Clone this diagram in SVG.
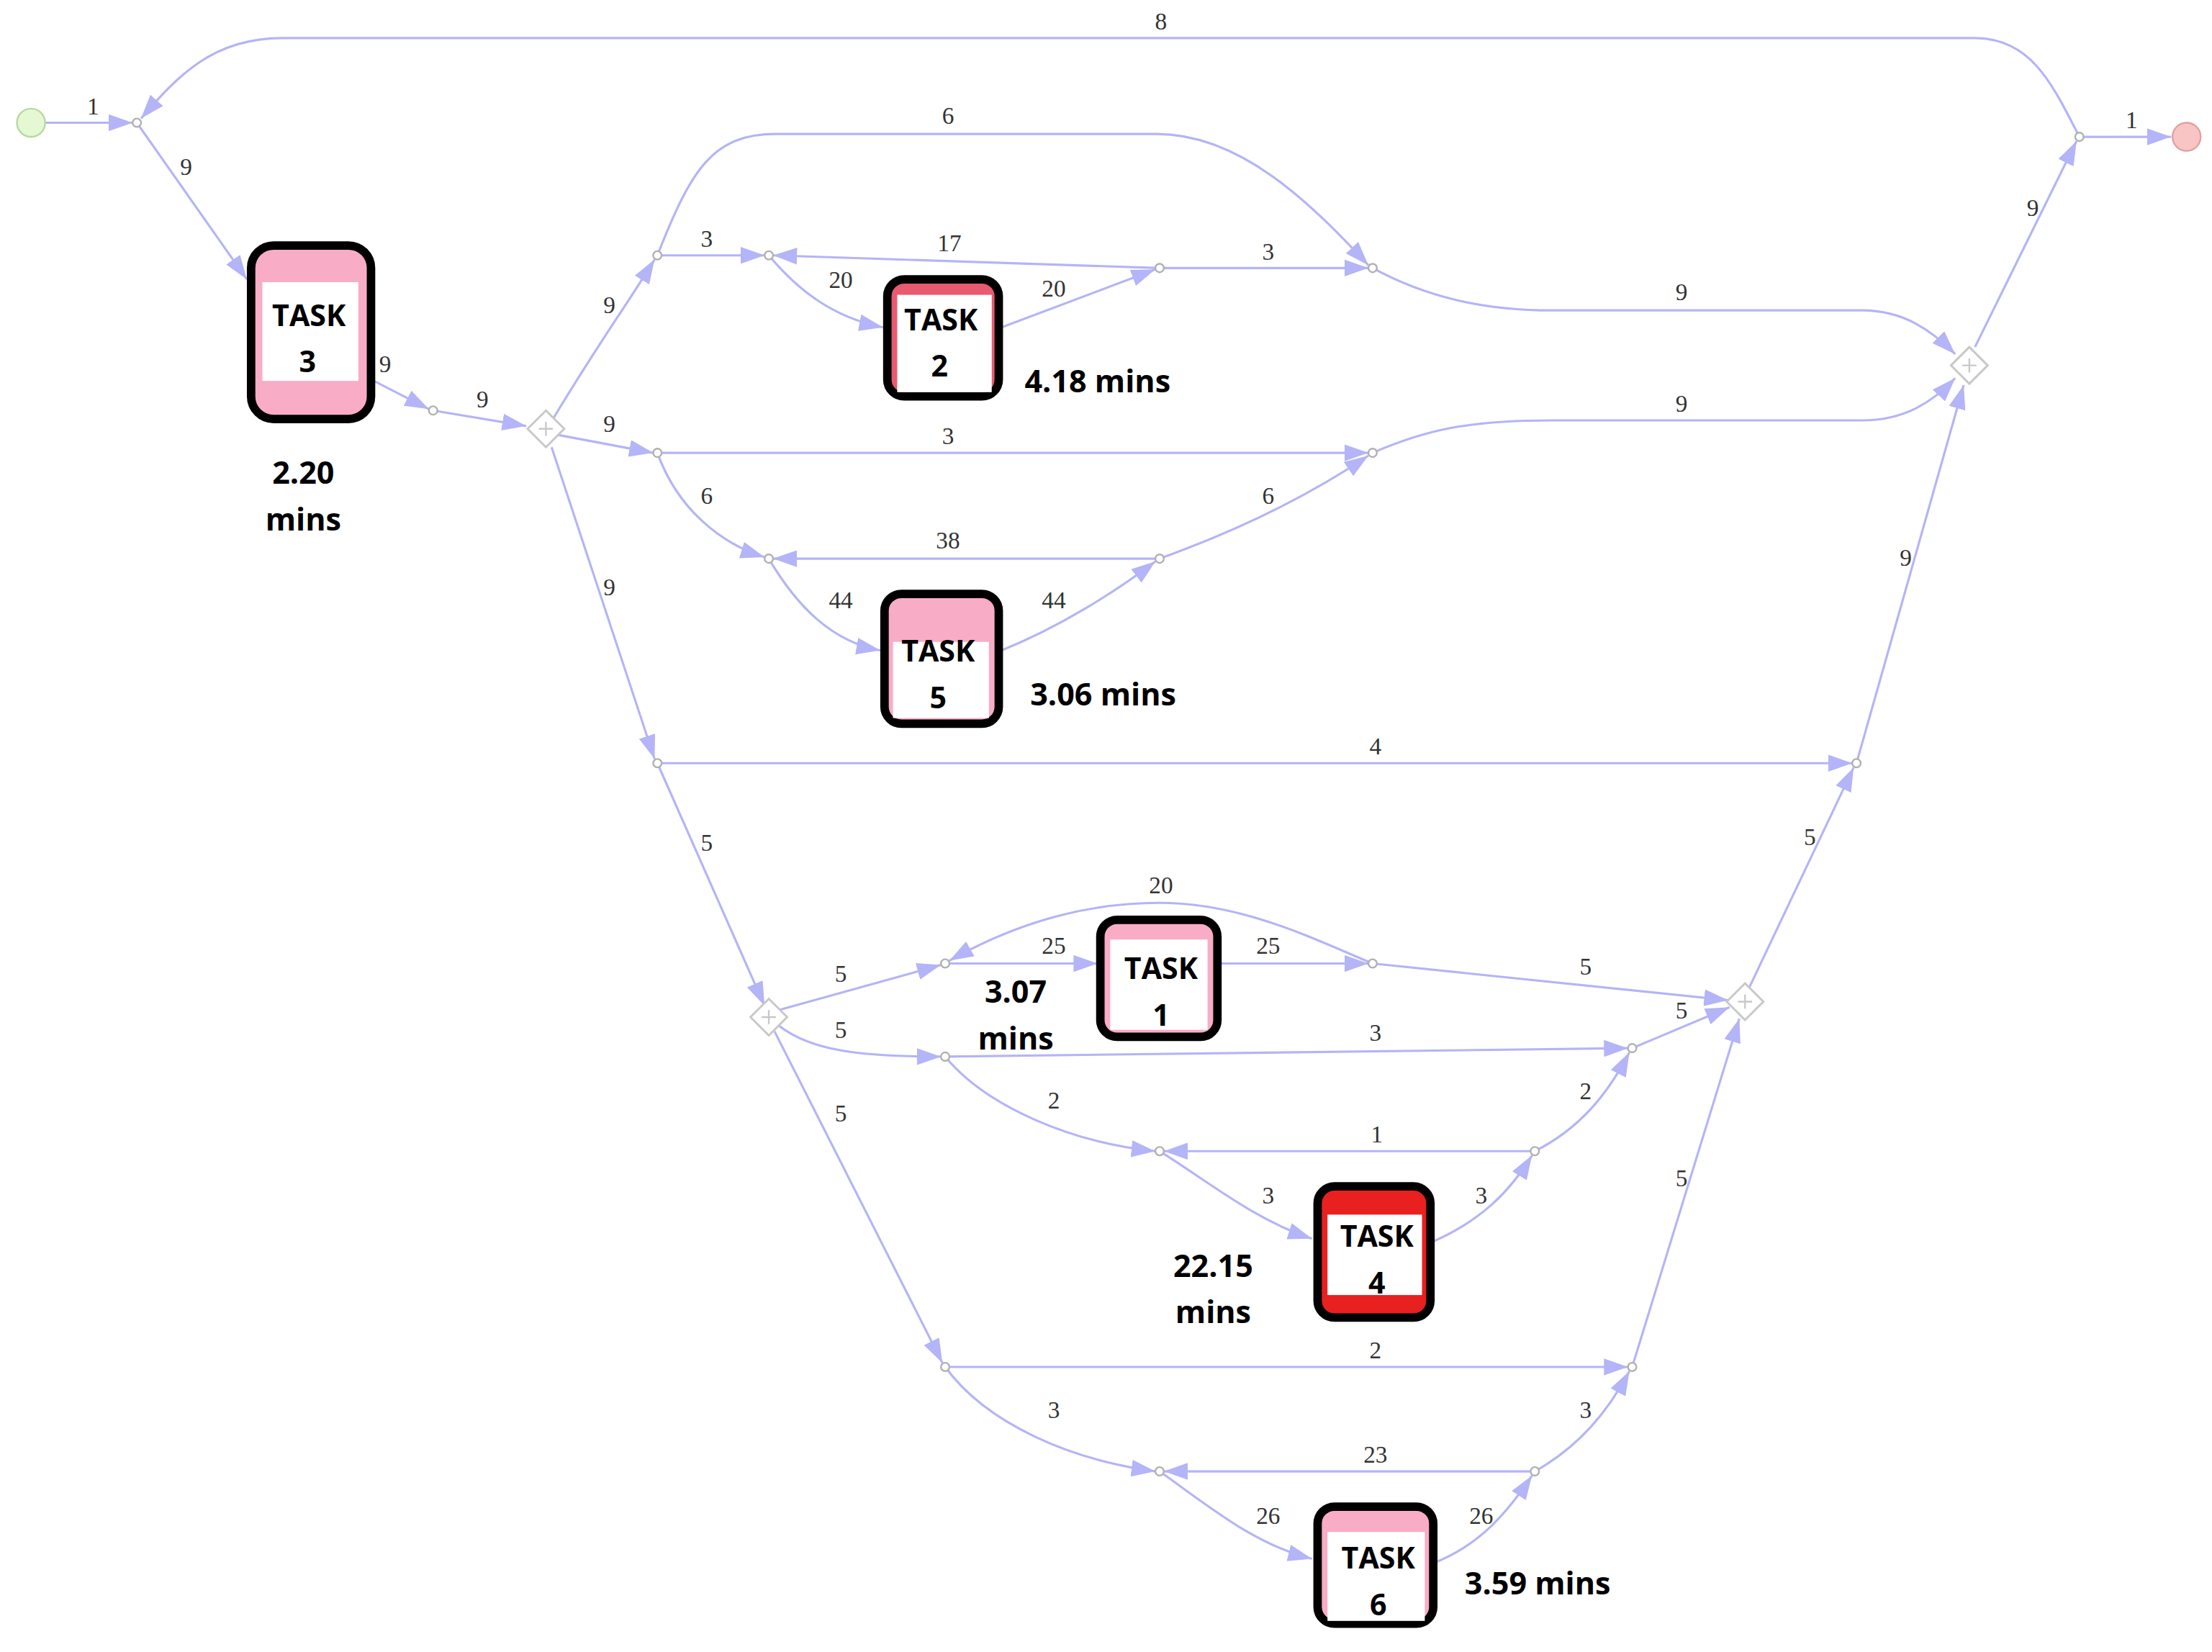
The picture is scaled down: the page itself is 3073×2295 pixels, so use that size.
<svg xmlns="http://www.w3.org/2000/svg" width="3073" height="2295" viewBox="0 0 3073 2295">
<style>
.e{fill:none;stroke:#b4b4f8;stroke-width:1.6}
.a{marker-end:url(#ah)}
.l{font-family:"Liberation Serif",serif;font-size:17px;fill:#333;text-anchor:middle}
.d{fill:#fff;stroke:#b0b0b0;stroke-width:1.2}
.g{fill:#fff;stroke:#c8c8c8;stroke-width:1.5}
.gp{stroke:#c8c8c8;stroke-width:1.2}
.t{stroke:#000;stroke-width:6}
.tt{font-family:"Open Sans","Liberation Sans",sans-serif;font-weight:bold;font-size:21px;fill:#000;text-anchor:middle}
.m{font-family:"Open Sans","Liberation Sans",sans-serif;font-weight:bold;font-size:22px;fill:#000;text-anchor:middle}
</style>
<defs>
<marker id="ah" markerUnits="userSpaceOnUse" markerWidth="18" markerHeight="12" refX="17" refY="6" orient="auto"><path d="M0,0 L17,6 L0,12 z" fill="#b4b4f8"/></marker>
</defs>
<rect width="3073" height="2295" fill="#fff"/>
<g transform="scale(1.9598)">
<g id="connectors">
<path class="e a" d="M32,87 L94,87"/>
<path class="e a" d="M1474,97 C1455,60 1440,27 1400,27 L200,27 C150,27 125,55 100,84"/>
<path class="e a" d="M97,87 L175,198"/>
<path class="e a" d="M265,270 L304,290"/>
<path class="e a" d="M307,291 L373,302"/>
<path class="e a" d="M392,297 C420,250 445,215 464,184"/>
<path class="e a" d="M466,181 L542,181"/>
<path class="e a" d="M466,181 C490,120 505,95 550,95 L820,95 C880,95 930,145 970,188"/>
<path class="e a" d="M822,190 L548,181"/>
<path class="e a" d="M545,181 C565,205 590,225 626,232"/>
<path class="e a" d="M710,232 L819,191"/>
<path class="e a" d="M822,190 L970,190"/>
<path class="e a" d="M973,190 C1010,210 1050,220 1100,220 L1320,220 C1350,220 1370,235 1386,251"/>
<path class="e a" d="M394,308 L463,321"/>
<path class="e a" d="M466,321 L970,321"/>
<path class="e a" d="M973,321 C1010,305 1040,298 1100,298 L1320,298 C1350,298 1370,285 1386,268"/>
<path class="e a" d="M466,321 C480,360 510,385 542,395"/>
<path class="e a" d="M822,396 L548,396"/>
<path class="e a" d="M822,396 C880,375 930,350 970,323"/>
<path class="e a" d="M545,396 C565,430 590,455 624,461"/>
<path class="e a" d="M710,461 C750,445 790,420 819,398"/>
<path class="e a" d="M391,317 L464,538"/>
<path class="e a" d="M466,541 L1313,541"/>
<path class="e a" d="M1316,541 L1392,273"/>
<path class="e a" d="M1400,246 L1472,100"/>
<path class="e a" d="M1477,97 L1539,97"/>
<path class="e a" d="M466,541 L542,713"/>
<path class="e a" d="M552,716 L667,684"/>
<path class="e a" d="M670,683 L778,683"/>
<path class="e a" d="M863,683 L970,683"/>
<path class="e a" d="M973,683 C930,665 880,640 822,640 C760,640 710,660 673,681"/>
<path class="e a" d="M973,683 L1225,709"/>
<path class="e a" d="M552,727 C575,745 610,749 667,749"/>
<path class="e a" d="M670,749 L1154,743"/>
<path class="e a" d="M1157,743 L1226,714"/>
<path class="e a" d="M670,749 C700,785 760,810 819,816"/>
<path class="e a" d="M1088,816 L825,816"/>
<path class="e a" d="M822,816 C860,840 890,865 930,878"/>
<path class="e a" d="M1016,880 C1050,865 1070,845 1086,819"/>
<path class="e a" d="M1088,816 C1120,800 1140,775 1155,746"/>
<path class="e a" d="M549,731 L668,966"/>
<path class="e a" d="M670,969 L1154,969"/>
<path class="e a" d="M1157,969 L1233,722"/>
<path class="e a" d="M670,969 C700,1010 760,1035 819,1043"/>
<path class="e a" d="M1088,1043 L825,1043"/>
<path class="e a" d="M822,1043 C860,1070 890,1095 930,1105"/>
<path class="e a" d="M1016,1108 C1050,1095 1070,1070 1086,1046"/>
<path class="e a" d="M1088,1043 C1120,1025 1140,1000 1155,972"/>
<path class="e a" d="M1240,700 L1314,544"/>
</g>
<g id="labels">
<text class="l" x="66" y="81">1</text>
<text class="l" x="823" y="21">8</text>
<text class="l" x="132" y="124">9</text>
<text class="l" x="273" y="264">9</text>
<text class="l" x="342" y="289">9</text>
<text class="l" x="432" y="222">9</text>
<text class="l" x="501" y="175">3</text>
<text class="l" x="672" y="88">6</text>
<text class="l" x="673" y="178">17</text>
<text class="l" x="596" y="204">20</text>
<text class="l" x="747" y="210">20</text>
<text class="l" x="899" y="184">3</text>
<text class="l" x="1192" y="213">9</text>
<text class="l" x="432" y="306">9</text>
<text class="l" x="672" y="315">3</text>
<text class="l" x="1192" y="292">9</text>
<text class="l" x="501" y="357">6</text>
<text class="l" x="672" y="389">38</text>
<text class="l" x="899" y="357">6</text>
<text class="l" x="596" y="431">44</text>
<text class="l" x="747" y="431">44</text>
<text class="l" x="432" y="422">9</text>
<text class="l" x="975" y="535">4</text>
<text class="l" x="1351" y="401">9</text>
<text class="l" x="1441" y="153">9</text>
<text class="l" x="1511" y="91">1</text>
<text class="l" x="501" y="603">5</text>
<text class="l" x="596" y="696">5</text>
<text class="l" x="747" y="676">25</text>
<text class="l" x="899" y="676">25</text>
<text class="l" x="823" y="633">20</text>
<text class="l" x="1124" y="691">5</text>
<text class="l" x="596" y="736">5</text>
<text class="l" x="975" y="738">3</text>
<text class="l" x="1192" y="722">5</text>
<text class="l" x="747" y="786">2</text>
<text class="l" x="976" y="810">1</text>
<text class="l" x="899" y="853">3</text>
<text class="l" x="1050" y="853">3</text>
<text class="l" x="1124" y="779">2</text>
<text class="l" x="596" y="795">5</text>
<text class="l" x="975" y="963">2</text>
<text class="l" x="1192" y="841">5</text>
<text class="l" x="747" y="1005">3</text>
<text class="l" x="975" y="1037">23</text>
<text class="l" x="899" y="1080">26</text>
<text class="l" x="1050" y="1080">26</text>
<text class="l" x="1124" y="1005">3</text>
<text class="l" x="1283" y="599">5</text>
</g>
<g id="start"><circle cx="22" cy="87" r="10" fill="#e4f8d4" stroke="#b8d8a0" stroke-width="1.2"/></g>
<g id="end"><circle cx="1550" cy="97" r="10" fill="#f8c4c4" stroke="#e0a0a0" stroke-width="1.2"/></g>
<g id="junctions">
<circle class="d" cx="97" cy="87" r="3"/><circle class="d" cx="307" cy="291" r="3"/>
<circle class="d" cx="466" cy="181" r="3"/><circle class="d" cx="545" cy="181" r="3"/>
<circle class="d" cx="822" cy="190" r="3"/><circle class="d" cx="973" cy="190" r="3"/>
<circle class="d" cx="466" cy="321" r="3"/><circle class="d" cx="973" cy="321" r="3"/>
<circle class="d" cx="545" cy="396" r="3"/><circle class="d" cx="822" cy="396" r="3"/>
<circle class="d" cx="466" cy="541" r="3"/><circle class="d" cx="1316" cy="541" r="3"/>
<circle class="d" cx="670" cy="683" r="3"/><circle class="d" cx="973" cy="683" r="3"/>
<circle class="d" cx="670" cy="749" r="3"/><circle class="d" cx="1157" cy="743" r="3"/>
<circle class="d" cx="822" cy="816" r="3"/><circle class="d" cx="1088" cy="816" r="3"/>
<circle class="d" cx="670" cy="969" r="3"/><circle class="d" cx="1157" cy="969" r="3"/>
<circle class="d" cx="822" cy="1043" r="3"/><circle class="d" cx="1088" cy="1043" r="3"/>
<circle class="d" cx="1474" cy="97" r="3"/>
</g>
<g id="gw1"><path class="g" d="M387,291 L400,304 L387,317 L374,304 z"/><path class="gp" d="M382,304 H392 M387,299 V309"/></g>
<g id="gw2"><path class="g" d="M1396,246 L1409,259 L1396,272 L1383,259 z"/><path class="gp" d="M1391,259 H1401 M1396,254 V264"/></g>
<g id="gw3"><path class="g" d="M545,708 L558,721 L545,734 L532,721 z"/><path class="gp" d="M540,721 H550 M545,716 V726"/></g>
<g id="gw4"><path class="g" d="M1237,697 L1250,710 L1237,723 L1224,710 z"/><path class="gp" d="M1232,710 H1242 M1237,705 V715"/></g>
<g id="task3"><rect class="t" x="178" y="174" width="85" height="123" rx="16" fill="#f9acc6"/><rect x="186" y="200" width="68" height="70" fill="#fff"/><text class="tt" x="219" y="231">TASK</text><text class="tt" x="218" y="264">3</text></g>
<g id="task2"><rect class="t" x="629" y="198" width="79" height="83" rx="12" fill="#e85a70"/><rect x="636" y="209" width="67" height="69" fill="#fff"/><text class="tt" x="667" y="234">TASK</text><text class="tt" x="666" y="267">2</text></g>
<g id="task5"><rect class="t" x="627" y="421" width="81" height="92" rx="12" fill="#f9acc6"/><rect x="633" y="455" width="68" height="54" fill="#fff"/><text class="tt" x="665" y="469">TASK</text><text class="tt" x="665" y="502">5</text></g>
<g id="task1"><rect class="t" x="780" y="652" width="83" height="83" rx="12" fill="#f9acc6"/><rect x="787" y="666" width="69" height="64" fill="#fff"/><text class="tt" x="823" y="694">TASK</text><text class="tt" x="823" y="727">1</text></g>
<g id="task4"><rect class="t" x="934" y="841" width="80" height="93" rx="12" fill="#e82020"/><rect x="941" y="861" width="67" height="57" fill="#fff"/><text class="tt" x="976" y="884">TASK</text><text class="tt" x="976" y="917">4</text></g>
<g id="task6"><rect class="t" x="934" y="1068" width="82" height="83" rx="12" fill="#f9acc6"/><rect x="941" y="1086" width="69" height="63" fill="#fff"/><text class="tt" x="977" y="1112">TASK</text><text class="tt" x="977" y="1145">6</text></g>
<g id="times">
<text class="m" x="215" y="343">2.20</text><text class="m" x="215" y="376">mins</text>
<text class="m" x="778" y="278">4.18 mins</text>
<text class="m" x="782" y="500">3.06 mins</text>
<text class="m" x="720" y="711">3.07</text><text class="m" x="720" y="744">mins</text>
<text class="m" x="860" y="905">22.15</text><text class="m" x="860" y="938">mins</text>
<text class="m" x="1090" y="1130">3.59 mins</text>
</g>
</g>
</svg>
